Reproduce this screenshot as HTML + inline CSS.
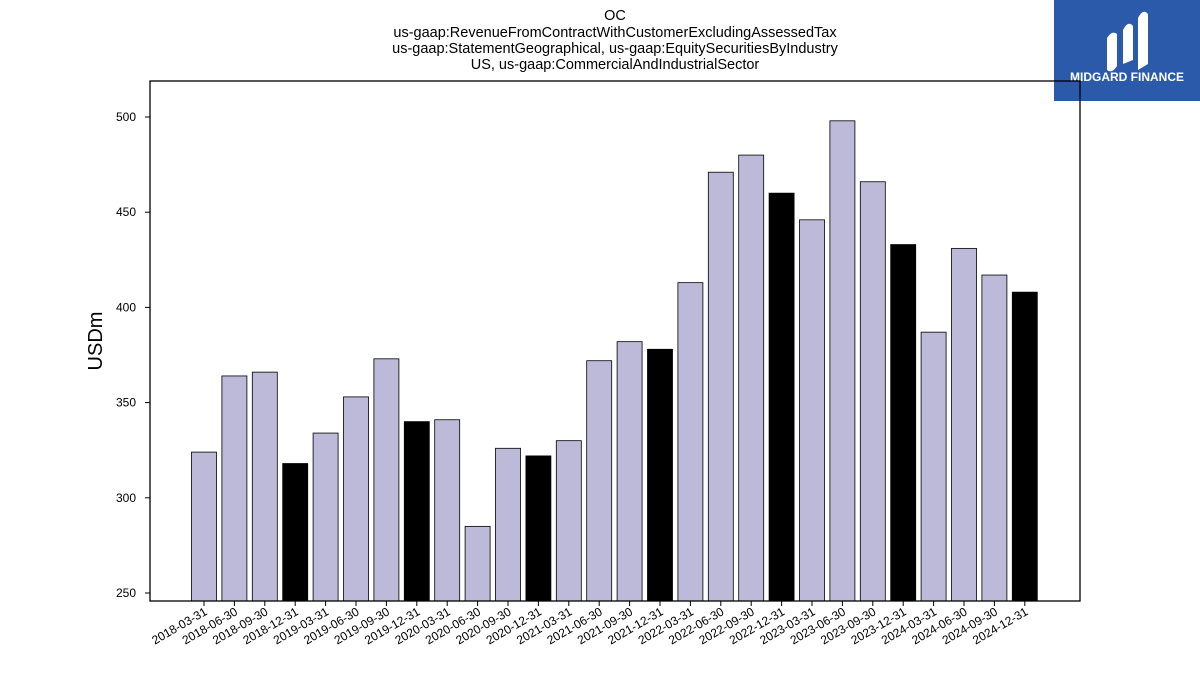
<!DOCTYPE html>
<html><head><meta charset="utf-8"><style>
body{margin:0;background:#fff;font-family:"Liberation Sans","DejaVu Sans",sans-serif}
</style></head><body>
<svg width="1200" height="675" xmlns="http://www.w3.org/2000/svg" id="svg">
<g font-size="14.5" text-anchor="middle" fill="#000">
<text x="615" y="20">OC</text>
<text x="615" y="37">us-gaap:RevenueFromContractWithCustomerExcludingAssessedTax</text>
<text x="615" y="53">us-gaap:StatementGeographical, us-gaap:EquitySecuritiesByIndustry</text>
<text x="615" y="69">US, us-gaap:CommercialAndIndustrialSector</text>
</g>
<g>
<rect x="1054" y="0" width="146" height="101" fill="#2b5aab"/>
<path d="M1107 70 L1107 38 Q1112 30 1117 34 L1117 66 Q1112 74 1107 70Z M1123 64 L1123 30 Q1128 20 1133 26 L1133 60Z M1138 70 L1138 18 Q1143 8 1148 14 L1148 64Z" fill="#fff"/>
<text x="1127" y="81" font-size="12" font-weight="bold" fill="#fff" text-anchor="middle">MIDGARD FINANCE</text>
</g>
<text x="102" y="341" font-size="20" text-anchor="middle" transform="rotate(-90 102 341)">USDm</text>
<g id="plot"></g>
<rect x="150" y="81" width="930" height="520" fill="none" stroke="#000" stroke-width="1.3"/>
</svg>
<script>
const categories=["2018-03-31","2018-06-30","2018-09-30","2018-12-31","2019-03-31","2019-06-30","2019-09-30","2019-12-31","2020-03-31","2020-06-30","2020-09-30","2020-12-31","2021-03-31","2021-06-30","2021-09-30","2021-12-31","2022-03-31","2022-06-30","2022-09-30","2022-12-31","2023-03-31","2023-06-30","2023-09-30","2023-12-31","2024-03-31","2024-06-30","2024-09-30","2024-12-31"];
const values=[324,364,366,318,334,353,373,340,341,285,326,322,330,372,382,378,413,471,480,460,446,498,466,433,387,431,417,408];
const yTicks=[250,300,350,400,450,500];
const NS="http://www.w3.org/2000/svg";
const g=document.getElementById('plot');
const y=v=>593-(v-250)*1.904;
const x=i=>204+i*30.4;
const bw=25;
function mk(t,a,p){const e=document.createElementNS(NS,t);for(const k in a)e.setAttribute(k,a[k]);(p||g).appendChild(e);return e;}
values.forEach((v,i)=>{
 const r=mk('rect',{x:x(i)-bw/2,y:y(v),width:bw,height:601-y(v),fill:categories[i].endsWith('12-31')?'#000':'#bdb9d9',stroke:'#000','stroke-width':0.8});
 
 
 const tk=mk('line',{x1:x(i),x2:x(i),y1:601,y2:606,stroke:'#000'});
 
 
 const t=mk('text',{x:x(i)+4,y:614,'font-size':12,'text-anchor':'end',transform:`rotate(-30 ${x(i)+4} 614)`});
 t.textContent=categories[i];
 
 
});
yTicks.forEach(v=>{
 const tk=mk('line',{x1:145,x2:150,y1:y(v),y2:y(v),stroke:'#000'});
 
 
 const t=mk('text',{x:136,y:y(v)+4,'font-size':12,'text-anchor':'end'});
 t.textContent=v;
 
 
});
</script>
</body></html>
